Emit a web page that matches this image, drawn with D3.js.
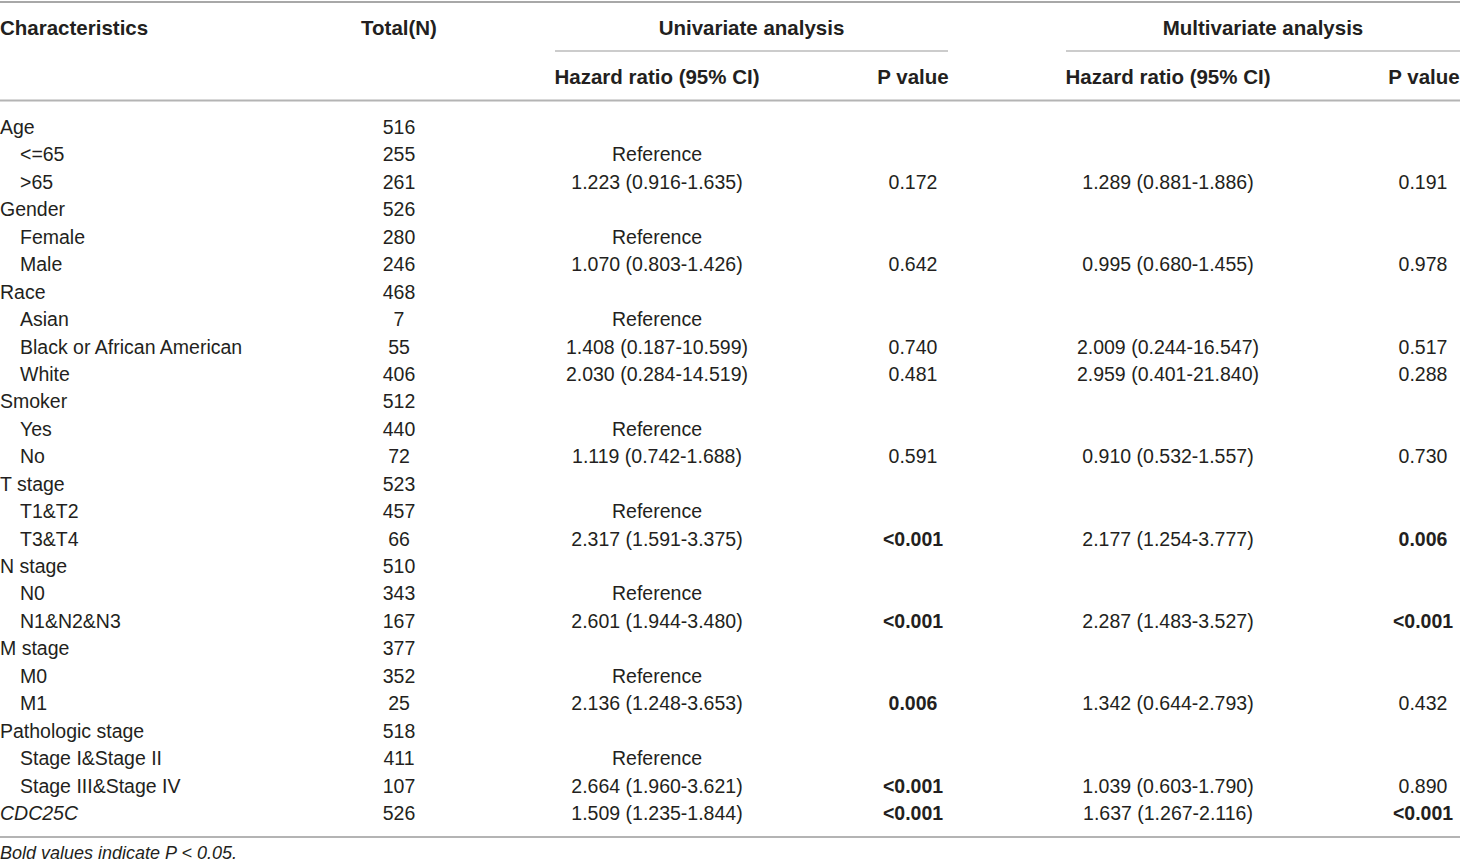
<!DOCTYPE html>
<html>
<head>
<meta charset="utf-8">
<script src="https://cdn.jsdelivr.net/npm/d3@7"></script>
<style>
  html, body { margin: 0; padding: 0; background: #fff; }
  svg { display: block; font-family: "Liberation Sans", Arial, sans-serif; }
</style>
</head>
<body>
<div id="table"></div>
<script>
// row labels, indent level (0 = group, 1 = sub level)
const characteristics = ["Age", "<=65", ">65", "Gender", "Female", "Male", "Race", "Asian",
  "Black or African American", "White", "Smoker", "Yes", "No", "T stage", "T1&T2", "T3&T4",
  "N stage", "N0", "N1&N2&N3", "M stage", "M0", "M1", "Pathologic stage",
  "Stage I&Stage II", "Stage III&Stage IV", "CDC25C"];
const indentLevel = [0,1,1,0,1,1,0,1,1,1,0,1,1,0,1,1,0,1,1,0,1,1,0,1,1,0];
const totals = ["516","255","261","526","280","246","468","7","55","406","512","440","72",
  "523","457","66","510","343","167","377","352","25","518","411","107","526"];
const uniHR = ["","Reference","1.223 (0.916-1.635)","","Reference","1.070 (0.803-1.426)",
  "","Reference","1.408 (0.187-10.599)","2.030 (0.284-14.519)","","Reference","1.119 (0.742-1.688)",
  "","Reference","2.317 (1.591-3.375)","","Reference","2.601 (1.944-3.480)",
  "","Reference","2.136 (1.248-3.653)","","Reference","2.664 (1.960-3.621)","1.509 (1.235-1.844)"];
const uniP = ["","","0.172","","","0.642","","","0.740","0.481","","","0.591",
  "","","<0.001","","","<0.001","","","0.006","","","<0.001","<0.001"];
const multiHR = ["","","1.289 (0.881-1.886)","","","0.995 (0.680-1.455)",
  "","","2.009 (0.244-16.547)","2.959 (0.401-21.840)","","","0.910 (0.532-1.557)",
  "","","2.177 (1.254-3.777)","","","2.287 (1.483-3.527)",
  "","","1.342 (0.644-2.793)","","","1.039 (0.603-1.790)","1.637 (1.267-2.116)"];
const multiP = ["","","0.191","","","0.978","","","0.517","0.288","","","0.730",
  "","","0.006","","","<0.001","","","0.432","","","0.890","<0.001"];
const italicRows = ["CDC25C"];

const width = 1460, height = 864;
const textColor = "#231f20";
const fontSize = 19.5;
const headSize = 20.5;

// column centres / anchors
const col = {
  label: 0, indent: 20, total: 399,
  uniHR: 657, uniP: 913, multiHR: 1168, multiP: 1423,
  uniGroup: [555, 948], multiGroup: [1066, 1460]
};

const rowY = d3.scaleLinear()
  .domain([0, characteristics.length - 1])
  .range([127, 813]);

function isBold(p) {
  if (p === "") return false;
  if (p.startsWith("<")) return true;
  return parseFloat(p) < 0.05;
}

let svg = d3.select("#table")
  .append("svg")
    .attr("width", width)
    .attr("height", height);

// rules
svg.append("line").attr("x1", 0).attr("x2", width).attr("y1", 2).attr("y2", 2)
  .attr("stroke", "#a8a8a8").attr("stroke-width", 2);
svg.append("line").attr("x1", 0).attr("x2", width).attr("y1", 100.5).attr("y2", 100.5)
  .attr("stroke", "#b4b4b4").attr("stroke-width", 2);
svg.append("line").attr("x1", 0).attr("x2", width).attr("y1", 837).attr("y2", 837)
  .attr("stroke", "#b4b4b4").attr("stroke-width", 2);
[col.uniGroup, col.multiGroup].forEach(function(g){
  svg.append("line").attr("x1", g[0]).attr("x2", g[1]).attr("y1", 51).attr("y2", 51)
    .attr("stroke", "#9a9a9a").attr("stroke-width", 1.2);
});

// header
let header = svg.append("g")
  .attr("font-weight", "bold")
  .attr("font-size", headSize + "px")
  .attr("fill", textColor)
  .attr("dominant-baseline", "central");

const headTop = [
  {text: "Characteristics", x: col.label, anchor: "start"},
  {text: "Total(N)", x: col.total, anchor: "middle"},
  {text: "Univariate analysis", x: (col.uniGroup[0] + col.uniGroup[1]) / 2, anchor: "middle"},
  {text: "Multivariate analysis", x: (col.multiGroup[0] + col.multiGroup[1]) / 2, anchor: "middle"}
];
const headSub = [
  {text: "Hazard ratio (95% CI)", x: col.uniHR, anchor: "middle"},
  {text: "P value", x: col.uniP, anchor: "middle"},
  {text: "Hazard ratio (95% CI)", x: col.multiHR, anchor: "middle"},
  {text: "P value", x: col.multiP + 1, anchor: "middle"}
];
header.selectAll(".top").data(headTop).enter().append("text")
  .attr("class", "top")
  .attr("x", d => d.x).attr("y", 27)
  .attr("text-anchor", d => d.anchor)
  .text(d => d.text);
header.selectAll(".sub").data(headSub).enter().append("text")
  .attr("class", "sub")
  .attr("x", d => d.x).attr("y", 76)
  .attr("text-anchor", d => d.anchor)
  .text(d => d.text);

// body
let body = svg.append("g")
  .attr("font-size", fontSize + "px")
  .attr("fill", textColor)
  .attr("dominant-baseline", "central");

let rows = body.selectAll(".row")
  .data(characteristics)
  .enter().append("g")
    .attr("class", "row")
    .attr("transform", (d, i) => "translate(0," + rowY(i) + ")");

rows.append("text")
  .attr("x", (d, i) => indentLevel[i] ? col.indent : col.label)
  .attr("font-style", d => italicRows.includes(d) ? "italic" : null)
  .text(d => d);

rows.append("text")
  .attr("x", col.total).attr("text-anchor", "middle")
  .text((d, i) => totals[i]);

rows.append("text")
  .attr("x", col.uniHR).attr("text-anchor", "middle")
  .text((d, i) => uniHR[i]);

rows.append("text")
  .attr("x", col.uniP).attr("text-anchor", "middle")
  .attr("font-weight", (d, i) => isBold(uniP[i]) ? "bold" : null)
  .text((d, i) => uniP[i]);

rows.append("text")
  .attr("x", col.multiHR).attr("text-anchor", "middle")
  .text((d, i) => multiHR[i]);

rows.append("text")
  .attr("x", col.multiP).attr("text-anchor", "middle")
  .attr("font-weight", (d, i) => isBold(multiP[i]) ? "bold" : null)
  .text((d, i) => multiP[i]);

// footnote
svg.append("text")
  .attr("x", 0).attr("y", 853)
  .attr("font-size", "18px")
  .attr("font-style", "italic")
  .attr("fill", textColor)
  .attr("dominant-baseline", "central")
  .text("Bold values indicate P < 0.05.");
</script>
</body>
</html>
